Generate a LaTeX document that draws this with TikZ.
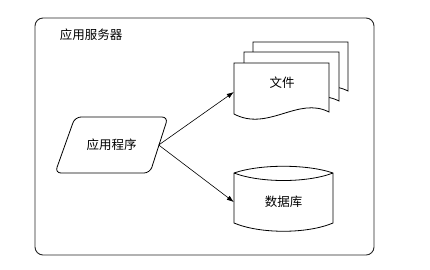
\documentclass[tikz,border=0pt]{standalone}
\usepackage{fontspec}
\newfontfamily\cjk{Noto Sans CJK SC}
\usetikzlibrary{arrows.meta}
\begin{document}
\begin{tikzpicture}[x=1pt,y=-1pt,
  lbl/.style={font=\cjk\fontsize{12.5}{14}\selectfont, inner sep=0pt},
  shp/.style={draw=black, line width=0.8pt, fill=white},
  arr/.style={draw=black, line width=0.6pt, -{Latex[length=7pt,width=5pt]}},
  anchorbox/.style={inner sep=0pt, minimum width=#1, minimum height=40pt}]
\useasboundingbox (0,0) rectangle (430,269);
\fill[white] (0,0) rectangle (430,269);
% outer server frame
\draw[draw=black!85, line width=0.9pt, rounded corners=8pt] (35,18) rectangle (374,255);
\node[lbl] (title) at (91,35) {应用服务器};
% application parallelogram
\draw[shp, rounded corners=6pt] (75,117) -- (168,117) -- (150,173) -- (55,173) -- cycle;
\node[lbl, anchorbox=94pt] (app) at (111.5,145) {应用程序};
% stacked documents (back to front)
\draw[shp] (253,42) -- (348,42) -- (348,91) .. controls (317,75) and (287,111) .. (253,93) -- cycle;
\draw[shp] (244,52) -- (339,52) -- (339,101) .. controls (308,85) and (278,121) .. (244,103) -- cycle;
\draw[shp] (234,63) -- (329,63) -- (329,112) .. controls (298,96) and (268,132) .. (234,114) -- cycle;
\node[inner sep=0pt, minimum width=95pt, minimum height=50pt] (doc) at (281.5,92) {};
\node[lbl] (doclabel) at (282,83) {文件};
% database cylinder
\draw[shp] (234,173) .. controls (260,164) and (307,164) .. (333,173) -- (333,223)
  .. controls (307,234) and (260,234) .. (234,223) -- cycle;
\draw[line width=0.8pt] (234,173) .. controls (260,183) and (307,183) .. (333,173);
\node[lbl, inner sep=0pt, minimum width=99pt, minimum height=50pt] (db) at (283.5,202) {数据库};
% connectors
\draw[arr] (app.east) -- (doc.west);
\draw[arr] (app.east) -- (db.west);
\end{tikzpicture}
\end{document}
